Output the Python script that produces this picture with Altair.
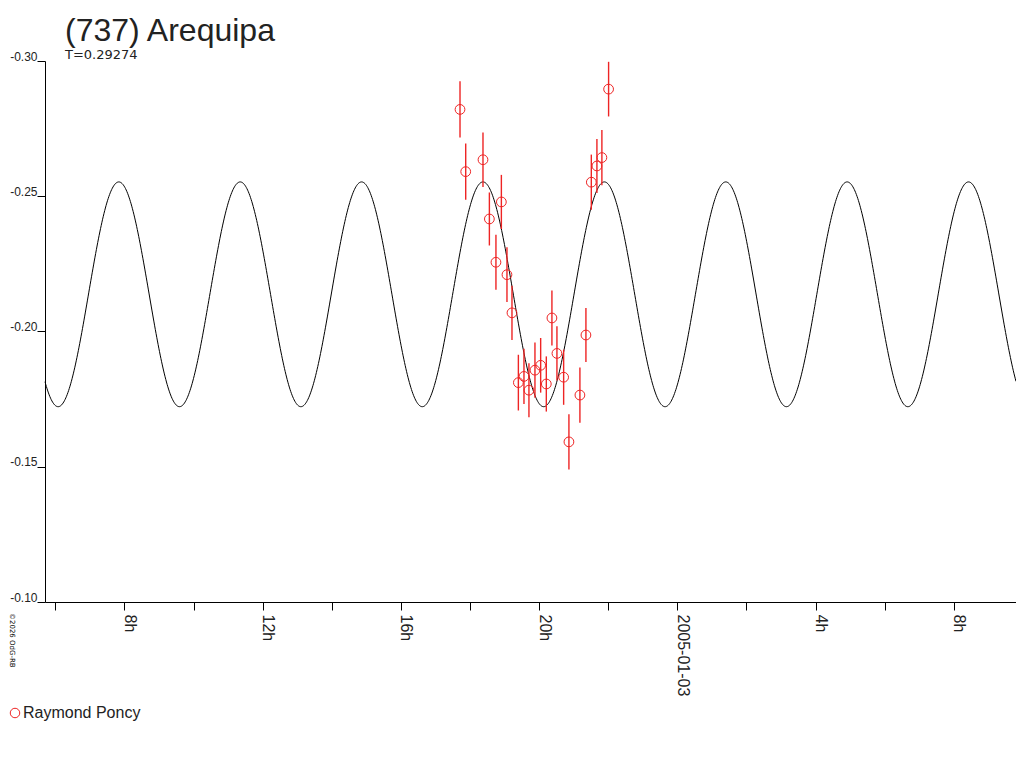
import numpy as np
import pandas as pd
import altair as alt

TITLE = "(737) Arequipa"
SUBTITLE = "T=0.29274"
COPYRIGHT = "\u00a92026 OdG-RB"
OBSERVER = "Raymond Poncy"
NEXT_DAY_LABEL = "2005-01-03"

# observation times, hours from 2005-01-02 00:00 UT
obs_hours = [17.71, 17.875, 18.375, 18.56, 18.75, 18.907, 19.069, 19.214,
             19.399, 19.561, 19.705, 19.879, 20.044, 20.208, 20.37, 20.515,
             20.709, 20.862, 21.18, 21.354, 21.51, 21.672, 21.816, 22.01]
# relative magnitudes
obs_mag = [-0.2821, -0.2591, -0.2635, -0.2416, -0.2256, -0.2479, -0.2210, -0.2069,
           -0.1811, -0.1834, -0.1783, -0.1857, -0.1875, -0.1806, -0.2050, -0.1919,
           -0.1831, -0.1592, -0.1765, -0.1987, -0.2552, -0.2612, -0.2643, -0.2896]
obs_err = [0.0104, 0.0104, 0.0101, 0.0098, 0.0102, 0.0100, 0.0101, 0.0100,
           0.0103, 0.0102, 0.0100, 0.0102, 0.0101, 0.0102, 0.0102, 0.0100,
           0.0102, 0.0102, 0.0102, 0.0100, 0.0102, 0.0100, 0.0102, 0.0101]

# fitted light-curve model (2nd harmonic of the rotation period)
CURVE_PERIOD_DAYS = 0.29274
CURVE_MEAN = -0.21375
CURVE_AMPLITUDE = 0.04155
CURVE_MAX_EPOCH_H = 18.375
CURVE_HARMONIC = 2

X_DOMAIN = [5.70, 33.80]
Y_DOMAIN = [-0.30, -0.10]
Y_TICKS = [-0.30, -0.25, -0.20, -0.15, -0.10]
X_TICKS = list(range(6, 34))

RED = "#ee2424"
INK = "#222222"

period_h = CURVE_PERIOD_DAYS * 24.0
t = np.linspace(X_DOMAIN[0], X_DOMAIN[1], 1400)
curve = pd.DataFrame({
    "t": t,
    "m": CURVE_MEAN - CURVE_AMPLITUDE * np.cos(2 * np.pi * CURVE_HARMONIC * (t - CURVE_MAX_EPOCH_H) / period_h),
})

obs = pd.DataFrame({"t": obs_hours, "m": obs_mag, "e": obs_err})
obs["lo"] = obs["m"] - obs["e"]
obs["hi"] = obs["m"] + obs["e"]
obs["observer"] = OBSERVER

label_expr = (
    "datum.value % 4 != 0 ? '' : (datum.value % 24 == 0 ? '" + NEXT_DAY_LABEL +
    "' : (datum.value % 24) + 'h')"
)

x_scale = alt.Scale(domain=X_DOMAIN, nice=False, zero=False)
y_scale = alt.Scale(domain=Y_DOMAIN, reverse=True, nice=False, zero=False)

x_axis = alt.Axis(
    title=None, values=X_TICKS, labelExpr=label_expr, labelAngle=90,
    labelAlign="left", labelBaseline="alphabetic", labelPadding=4,
    labelFont="Liberation Sans", labelFontSize=16, labelColor=INK,
    tickSize=8, tickColor="black", domainColor="black", labelOverlap=False,
    labelFlush=False, grid=False,
)
y_axis = alt.Axis(
    title=None, values=Y_TICKS,
    labelExpr="replace(format(datum.value, '.2f'), '\u2212', '-')",
    labelFont="Liberation Sans",
    labelFontSize=12, labelColor=INK, labelPadding=0, labelBaseline="alphabetic",
    labelOffset=-1, tickSize=8, tickColor="black", domainColor="black", grid=False,
)

line = alt.Chart(curve).mark_line(color="black", strokeWidth=1).encode(
    x=alt.X("t:Q", scale=x_scale, axis=x_axis),
    y=alt.Y("m:Q", scale=y_scale, axis=y_axis),
)

bars = alt.Chart(obs).mark_rule(color=RED, strokeWidth=1.4).encode(
    x=alt.X("t:Q", scale=x_scale),
    y=alt.Y("lo:Q", scale=y_scale),
    y2="hi:Q",
)

points = alt.Chart(obs).mark_point(shape="circle", filled=False, size=95,
                                   strokeWidth=1, opacity=1).encode(
    x=alt.X("t:Q", scale=x_scale),
    y=alt.Y("m:Q", scale=y_scale),
    color=alt.Color("observer:N", scale=alt.Scale(range=[RED]),
                    legend=alt.Legend(title=None, orient="none", legendX=-38,
                                      legendY=644, padding=0, symbolSize=90,
                                      symbolStrokeWidth=1, labelOffset=0,
                                      labelFont="Liberation Sans", labelFontSize=16,
                                      labelColor=INK)),
)

title_df = pd.DataFrame({"s": [TITLE]})
sub_df = pd.DataFrame({"s": [SUBTITLE]})
copy_df = pd.DataFrame({"s": [COPYRIGHT]})

title_txt = alt.Chart(title_df).mark_text(
    align="left", baseline="alphabetic", font="Liberation Sans", fontSize=32, color=INK
).encode(text="s:N", x=alt.value(20), y=alt.value(-20))

sub_txt = alt.Chart(sub_df).mark_text(
    align="left", baseline="alphabetic", font="DejaVu Sans", fontSize=13, color=INK
).encode(text="s:N", x=alt.value(20), y=alt.value(-2))

copy_txt = alt.Chart(copy_df).mark_text(
    align="left", baseline="alphabetic", font="DejaVu Sans", fontSize=7, angle=90,
    color="black"
).encode(text="s:N", x=alt.value(-35), y=alt.value(552))

chart = alt.layer(line, bars, points, title_txt, sub_txt, copy_txt).properties(
    width=971, height=541,
    autosize=alt.AutoSizeParams(type="none"),
    padding={"left": 37, "top": 53, "right": 0, "bottom": 130},
).configure_view(strokeWidth=0).configure_axis(grid=False)

chart.save("out.html", embed_options={"renderer": "svg", "actions": False})
